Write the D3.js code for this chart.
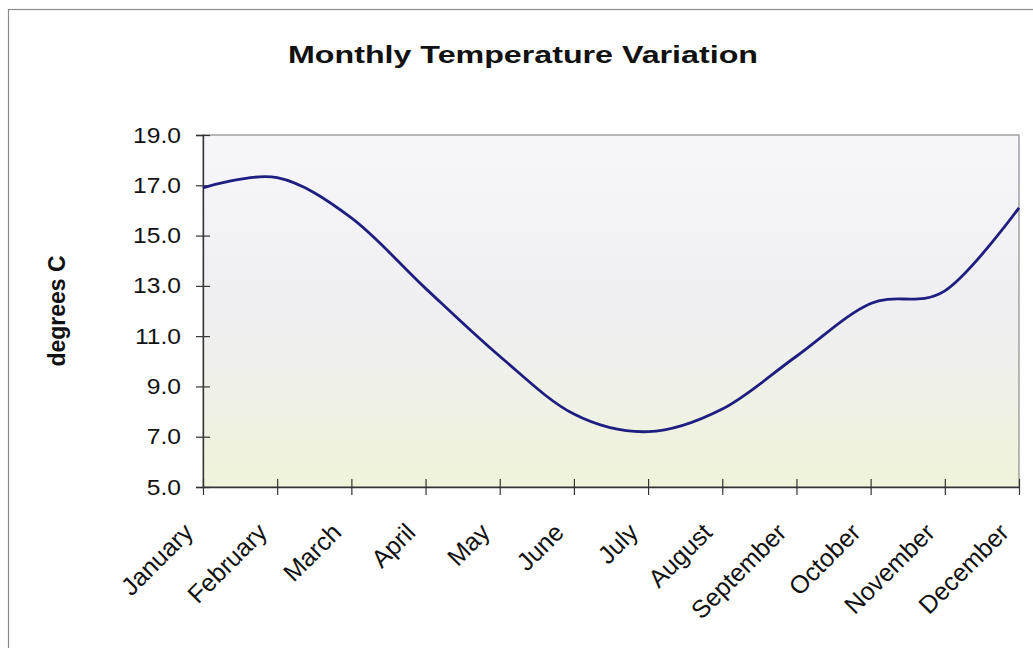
<!DOCTYPE html>
<html lang="en">
<head>
<meta charset="UTF-8">
<title>Monthly Temperature Variation</title>
<script src="https://cdn.jsdelivr.net/npm/d3@7"></script>
<style>
  body { margin: 0; background: #fff; }
  text { font-family: Arial, "Liberation Sans", sans-serif; fill: #111; }
</style>
</head>
<body>
<script>
    // data
    var months = ["January", "February", "March", "April", "May", "June",
        "July", "August", "September", "October", "November", "December"];
    var temps = [16.9, 17.3, 15.7, 12.9, 10.2, 7.9, 7.2, 8.1, 10.2, 12.3, 12.8, 16.1];
    var yTicks = [5, 7, 9, 11, 13, 15, 17, 19];

    var W = 1033, H = 648;
    var plotL = 203, plotR = 1019, plotT = 135, plotB = 487;

    var svg = d3.select("body").append("svg").attr("width", W).attr("height", H);

    var defs = svg.append("defs");
    var grad = defs.append("linearGradient").attr("id", "bg").attr("x1", 0).attr("y1", 0).attr("x2", 0).attr("y2", 1);
    grad.append("stop").attr("offset", "0%").attr("stop-color", "#f7f6fb");
    grad.append("stop").attr("offset", "50%").attr("stop-color", "#efeff2");
    grad.append("stop").attr("offset", "100%").attr("stop-color", "#eff4da");

    // outer chart frame
    svg.append("rect").attr("x", 8.5).attr("y", 9.5).attr("width", W + 10).attr("height", H + 10)
        .attr("fill", "none").attr("stroke", "#8a8a8a").attr("stroke-width", 1.2);

    var x = d3.scalePoint().domain(months).range([plotL, plotR]);
    var y = d3.scaleLinear().domain([5, 19]).range([plotB, plotT]);

    // plot area
    svg.append("rect").attr("x", plotL).attr("y", plotT).attr("width", plotR - plotL).attr("height", plotB - plotT)
        .attr("fill", "url(#bg)").attr("stroke", "#8a8a8a").attr("stroke-width", 1.2);

    // y axis
    var yAxis = svg.append("g").attr("transform", "translate(" + plotL + ",0)")
        .call(d3.axisLeft(y).tickValues(yTicks).tickSize(7).tickPadding(0).tickFormat(d3.format(".1f")));
    yAxis.select(".domain").attr("stroke", "#333").attr("stroke-width", 1.3);
    yAxis.selectAll(".tick line").attr("x1", 7).attr("stroke", "#333").attr("stroke-width", 1.2);
    yAxis.selectAll(".tick text").attr("x", -22 / 1.12).attr("transform", "scale(1.12,1)")
        .style("font-size", "22px").attr("fill", "#111");

    // x axis
    var xAxis = svg.append("g").attr("transform", "translate(0," + plotB + ")")
        .call(d3.axisBottom(x).tickSize(8).tickSizeOuter(0));
    xAxis.select(".domain").attr("stroke", "#333").attr("stroke-width", 1.3);
    xAxis.selectAll(".tick line").attr("y1", -8).attr("stroke", "#333").attr("stroke-width", 1.2);
    xAxis.selectAll(".tick text")
        .attr("x", 0).attr("y", 0).attr("dy", 0)
        .attr("transform", "translate(-9,47) rotate(-45)")
        .attr("text-anchor", "end")
        .style("font-size", "25px").attr("fill", "#111");

    // temperature line
    var line = d3.line()
        .x(function (d, i) { return x(months[i]); })
        .y(function (d) { return y(d); })
        .curve(d3.curveCatmullRom.alpha(0));
    svg.append("path").datum(temps).attr("d", line)
        .attr("fill", "none").attr("stroke", "#1f1d80").attr("stroke-width", 2.8);

    // titles
    svg.append("text").attr("x", 523).attr("y", 63).attr("text-anchor", "middle")
        .attr("textLength", 470).attr("lengthAdjust", "spacingAndGlyphs")
        .style("font-size", "23px").style("font-weight", "bold").text("Monthly Temperature Variation");

    svg.append("text").attr("transform", "translate(65,311) rotate(-90)").attr("text-anchor", "middle")
        .style("font-size", "23px").style("font-weight", "bold").text("degrees C");
</script>
</body>
</html>
